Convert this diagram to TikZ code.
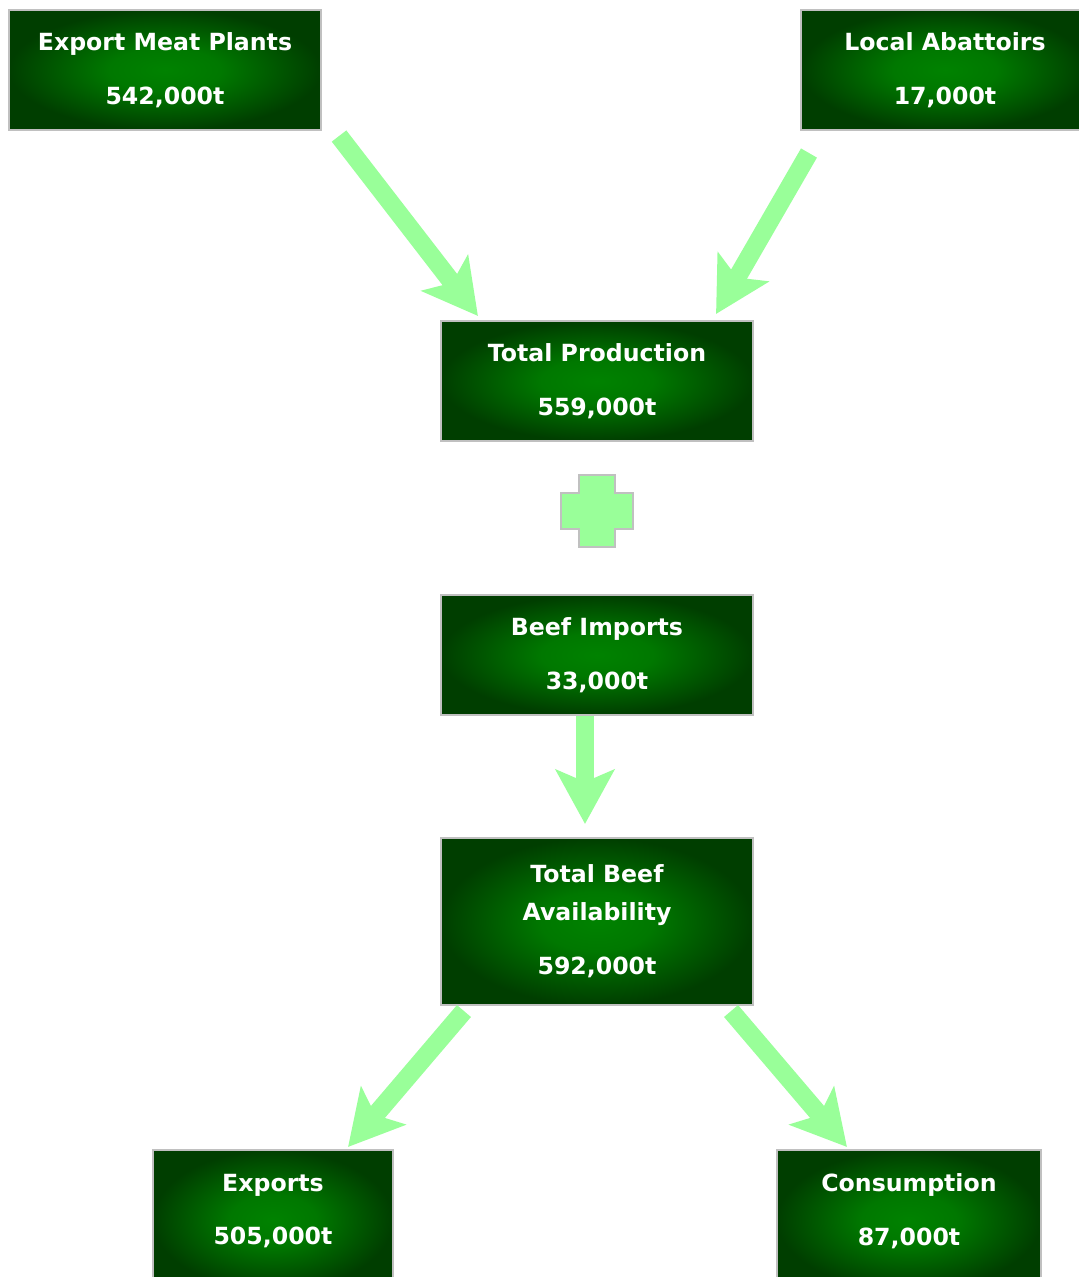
\documentclass[tikz,border=0pt]{standalone}
\usepackage{fontspec}
\setmainfont{DejaVu Sans}
\usetikzlibrary{arrows.meta,calc}

\definecolor{flowgreen}{RGB}{153,255,153}
\definecolor{boxlight}{RGB}{0,130,0}
\definecolor{boxdark}{RGB}{0,62,0}
\definecolor{boxedge}{RGB}{192,192,192}

% Softer glow for the boxes
\pgfdeclareradialshading{boxglow}{\pgfpoint{0bp}{0bp}}{%
  color(0bp)=(boxlight); color(9bp)=(boxlight!85!boxdark);
  color(25bp)=(boxdark); color(50bp)=(boxdark)}

\begin{document}
\begin{tikzpicture}[
    x=0.025cm, y=-0.025cm,
    box/.style={rectangle, draw=boxedge, line width=0.05cm,
      shading=boxglow,
      text=white, align=center, minimum height=3cm,
      font=\fontsize{16.8}{27}\selectfont\bfseries},
    flow/.style={flowgreen, line width=0.46cm,
      -{Stealth[length=1.35cm, width=1.45cm, inset=0.3cm]}}
  ]

    % Fix the page size
    \useasboundingbox (0,0) rectangle (1079,1277);

    % Sources
    \node[box, minimum width=7.8cm] (emp) at (165,70)
      {Export Meat Plants\\[11.2pt]542,000t};
    \node[box, minimum width=7.2cm] (la) at (945,70)
      {Local Abattoirs\\[11.2pt]17,000t};

    % Production and imports
    \node[box, minimum width=7.8cm] (tp) at (597,381)
      {Total Production\\[11.2pt]559,000t};
    \node[box, minimum width=7.8cm] (bi) at (597,655)
      {Beef Imports\\[11.2pt]33,000t};

    % Plus sign
    \draw[boxedge, fill=flowgreen, line width=0.05cm]
      (579,475) -- (615,475) -- (615,493) -- (633,493) -- (633,529)
      -- (615,529) -- (615,547) -- (579,547) -- (579,529) -- (561,529)
      -- (561,493) -- (579,493) -- cycle;

    % Availability
    \node[box, minimum width=7.8cm, minimum height=4.175cm] (tba) at (597,921.5)
      {Total Beef\\Availability\\[11.2pt]592,000t};

    % Destinations
    \node[box, minimum width=6cm, minimum height=3.5cm, text depth=15pt]
      (exp) at (273,1220) {Exports\\[11.2pt]505,000t};
    \node[box, minimum width=6.6cm, minimum height=3.5cm, text depth=15pt]
      (cons) at (909,1220) {Consumption\\[11.2pt]87,000t};

    % Flow arrows
    \draw[flow] ($(emp.south east)+(17,5)$) -- ($(tp.north west)+(38,-4)$);
    \draw[flow] ($(la.south west)+(9,22)$) -- ($(tp.north east)+(-38,-6)$);
    \draw[flow] ($(bi.south)+(-12,0)$) -- ($(tba.north)+(-12,-13)$);
    \draw[flow] ($(tba.south west)+(24,5)$) -- ($(exp.north east)+(-46,-2)$);
    \draw[flow] ($(tba.south east)+(-23,5)$) -- ($(cons.north west)+(71,-2)$);

  \end{tikzpicture}
\end{document}
